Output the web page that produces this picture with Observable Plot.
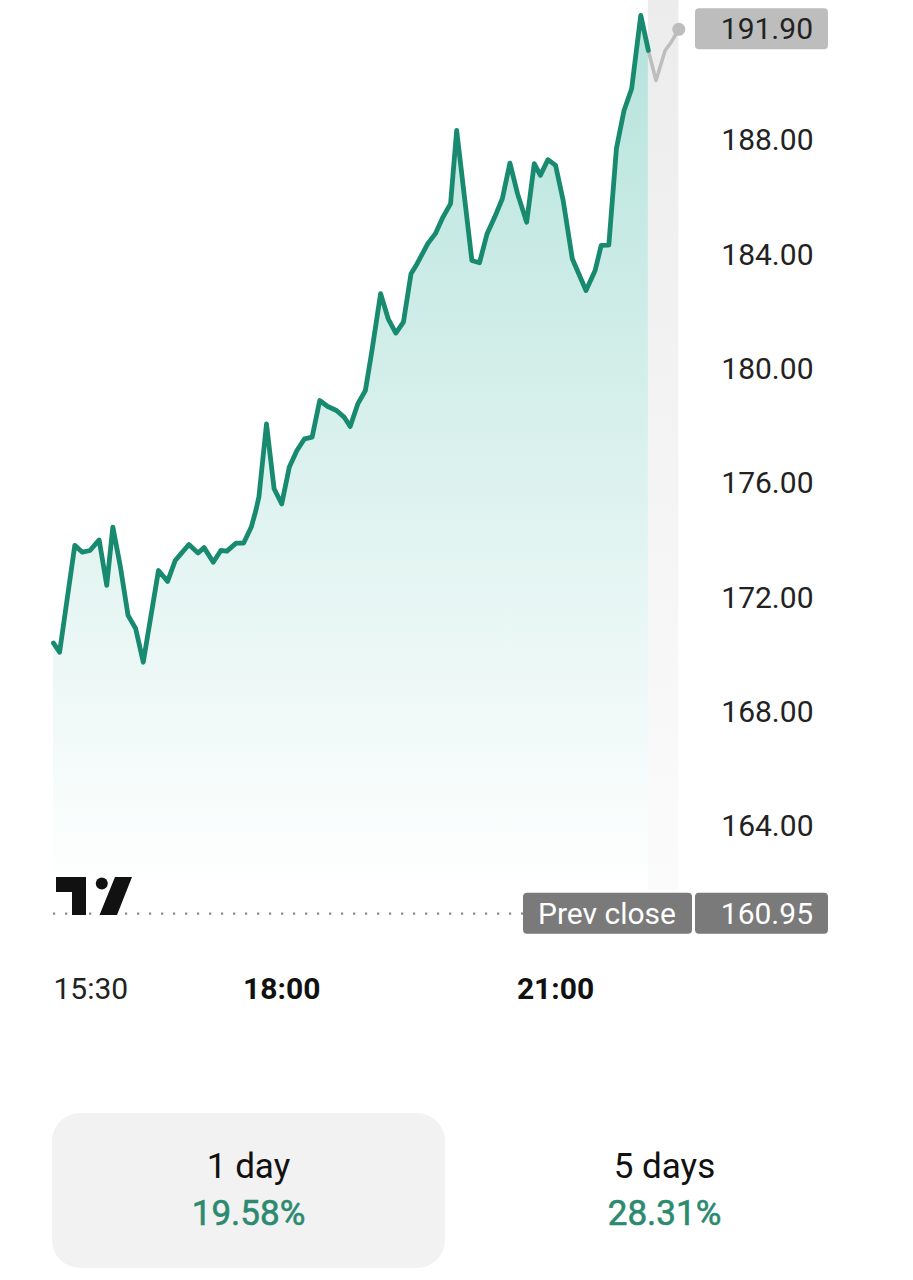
<!DOCTYPE html>
<html><head><meta charset="utf-8">
<script src="https://cdn.jsdelivr.net/npm/d3@7"></script>
<script src="https://cdn.jsdelivr.net/npm/@observablehq/plot@0.6"></script>
<style>
body{margin:0;background:#fff;font-family:Roboto,"Noto Sans",sans-serif;width:913px;height:1280px;overflow:hidden;position:relative}
#chart{position:absolute;left:0;top:0}
.card{position:absolute;top:1113px;height:155px;border-radius:28px}
.lbl{position:absolute;left:0;right:0;text-align:center;font-size:35px;line-height:40px}
.lbl.name{top:34px;color:#111}
.lbl.val{top:81px;color:#2b8a70;-webkit-text-stroke:0.6px #2b8a70}
</style></head><body>
<div id="chart"></div>
<div id="periods"></div>
<script>
// ---- data ----
const sessionTimes = ["15:30","15:34","15:44","15:49","15:54","16:00","16:05","16:09","16:14","16:19","16:24","16:29","16:39","16:45","16:50","16:54","16:59","17:05","17:09","17:15","17:20","17:24","17:30","17:35","17:40","17:43","17:45","17:50","17:55","18:00","18:05","18:10","18:15","18:20","18:25","18:30","18:36","18:41","18:45","18:50","18:55","18:59","19:05","19:10","19:15","19:20","19:25","19:29","19:36","19:41","19:46","19:51","19:55","20:05","20:10","20:15","20:20","20:25","20:30","20:35","20:41","20:46","20:50","20:55","21:00","21:05","21:11","21:20","21:26","21:30","21:35","21:40","21:45","21:50","21:56","22:01"];
const sessionPrices = [170.42,170.10,173.84,173.60,173.66,174.03,172.44,174.48,173.08,171.39,170.93,169.75,172.96,172.58,173.31,173.56,173.87,173.57,173.76,173.25,173.66,173.64,173.92,173.92,174.48,175.06,175.53,178.09,175.82,175.29,176.58,177.16,177.57,177.63,178.91,178.71,178.56,178.33,178.00,178.79,179.26,180.55,182.65,181.77,181.27,181.65,183.35,183.70,184.40,184.75,185.33,185.80,188.36,183.81,183.73,184.75,185.33,185.97,187.22,186.15,185.15,187.20,186.79,187.34,187.14,185.91,183.87,182.76,183.46,184.34,184.35,187.73,189.06,189.82,192.39,191.16];
const postTimes = ["22:01","22:06","22:12","22:16","22:21"];
const postPrices = [191.16,190.11,191.16,191.45,191.90];
const prevClose = 160.95;
const lastPrice = 191.90;
const yTicks = [164,168,172,176,180,184,188];
const xTickTimes = ["15:30","18:00","21:00"];
const periodNames = ["1 day","5 days"];
const periodChanges = ["19.58%","28.31%"];

// ---- build ----
const toMin = s => { const [h,m] = s.split(":").map(Number); return (h*60+m) - (15*60+30); };
const session = sessionTimes.map((t,i)=>({t:toMin(t), p:sessionPrices[i]}));
const post = postTimes.map((t,i)=>({t:toMin(t), p:postPrices[i]}));
const xDomain = [0, toMin(postTimes[postTimes.length-1])];
const yDomain = [161.76, 192.91];
const fmt = d => d.toFixed(2);

const gradients = () => {
  const defs = d3.create("svg:defs");
  const g = defs.append("linearGradient").attr("id","areaGrad")
    .attr("gradientUnits","userSpaceOnUse").attr("x1",0).attr("x2",0).attr("y1",0).attr("y2",890);
  g.append("stop").attr("offset","0%").attr("stop-color","#22ab94").attr("stop-opacity",0.34);
  g.append("stop").attr("offset","100%").attr("stop-color","#22ab94").attr("stop-opacity",0.0);
  const b = defs.append("linearGradient").attr("id","bandGrad")
    .attr("gradientUnits","userSpaceOnUse").attr("x1",0).attr("x2",0).attr("y1",0).attr("y2",890);
  b.append("stop").attr("offset","0%").attr("stop-color","#ececec");
  b.append("stop").attr("offset","100%").attr("stop-color","#fbfbfb");
  return defs.node();
};

const chart = Plot.plot({
  width: 913, height: 1010,
  marginLeft: 53, marginRight: 234.7, marginTop: 0, marginBottom: 120,
  x: {domain: xDomain, axis: null},
  y: {domain: yDomain, axis: null},
  style: {fontFamily: "Roboto", overflow: "visible", background: "transparent"},
  marks: [
    gradients,
    Plot.rect([{a: session[session.length-1].t, b: xDomain[1]}], {x1: "a", x2: "b", fill: "url(#bandGrad)"}),
    Plot.areaY(session, {x: "t", y1: yDomain[0], y2: "p", fill: "url(#areaGrad)"}),
    Plot.ruleY([prevClose], {stroke: "#8a8a8a", strokeWidth: 2.2, strokeDasharray: "2.2 9.8"}),
    Plot.line(post, {x: "t", y: "p", stroke: "#bdbdbd", strokeWidth: 3.5, strokeLinejoin: "round"}),
    Plot.dot([post[post.length-1]], {x: "t", y: "p", r: 6.5, fill: "#bdbdbd"}),
    Plot.line(session, {x: "t", y: "p", stroke: "#188a6f", strokeWidth: 4.8, strokeLinejoin: "round", strokeLinecap: "round"}),
    Plot.text(yTicks, {y: d => d, text: fmt, frameAnchor: "right", dx: 134.7, textAnchor: "end", fontSize: 30, fill: "#222"}),
    Plot.text(xTickTimes.slice(0,1), {x: toMin, text: d => d, frameAnchor: "bottom", dy: 108, textAnchor: "start", fontSize: 30, fill: "#222"}),
    Plot.text(xTickTimes.slice(1), {x: toMin, text: d => d, frameAnchor: "bottom", dy: 108, fontSize: 30, fontWeight: "bold", fill: "#111"})
  ]
});
document.getElementById("chart").appendChild(chart);

// ---- badges & logo ----
const svg = d3.select(chart);
const ys = chart.scale("y");
const yLast = ys.apply(lastPrice), yPrev = ys.apply(prevClose);
const bh = 41;
svg.append("rect").attr("x",695).attr("y",yLast-bh/2).attr("width",133).attr("height",bh).attr("rx",4).attr("fill","#bdbdbd");
svg.append("text").attr("x",813).attr("y",yLast).attr("dy","0.35em").attr("text-anchor","end")
  .attr("font-size",30).attr("fill","#222").attr("font-family","Roboto").text(fmt(lastPrice));
svg.append("rect").attr("x",523).attr("y",yPrev-bh/2).attr("width",169).attr("height",bh).attr("rx",4).attr("fill","#7a7a7a");
svg.append("rect").attr("x",695).attr("y",yPrev-bh/2).attr("width",133).attr("height",bh).attr("rx",4).attr("fill","#7a7a7a");
svg.append("text").attr("x",538).attr("y",yPrev).attr("dy","0.35em").attr("text-anchor","start")
  .attr("font-size",30).attr("fill","#fff").attr("font-family","Roboto").text("Prev close");
svg.append("text").attr("x",813).attr("y",yPrev).attr("dy","0.35em").attr("text-anchor","end")
  .attr("font-size",30).attr("fill","#fff").attr("font-family","Roboto").text(fmt(prevClose));
const logo = svg.append("g").attr("fill","#111");
logo.append("polygon").attr("points","56,877 86,877 86,915 72,915 72,892 56,892");
logo.append("circle").attr("cx",101.8).attr("cy",883.5).attr("r",6);
logo.append("polygon").attr("points","115,877 132,877 117,915 99.5,915");

// ---- period cards ----
const wrap = document.getElementById("periods");
const cardPos = [{left:52,width:393,bg:"#f2f2f2"},{left:468,width:393,bg:"transparent"}];
periodNames.forEach((n,i)=>{
  const c = document.createElement("div");
  c.className = "card";
  c.style.left = cardPos[i].left+"px"; c.style.width = cardPos[i].width+"px"; c.style.background = cardPos[i].bg;
  c.innerHTML = `<div class="lbl name">${n}</div><div class="lbl val">${periodChanges[i]}</div>`;
  wrap.appendChild(c);
});
</script>
</body></html>
